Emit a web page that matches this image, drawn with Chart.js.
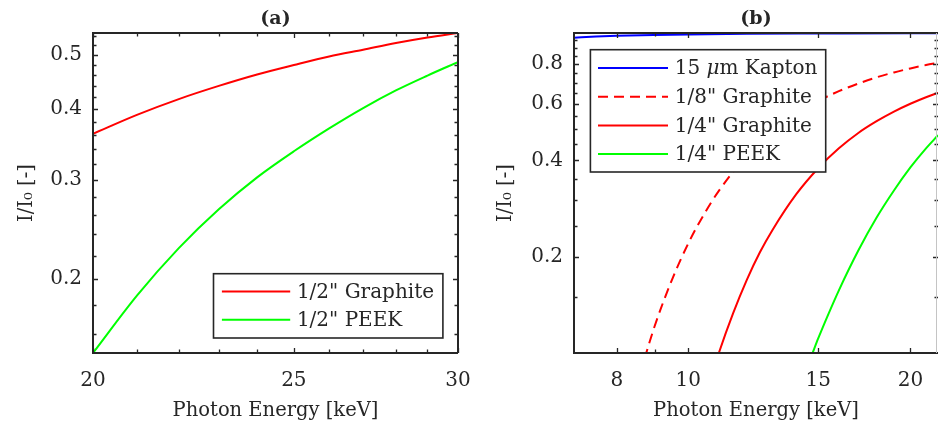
<!DOCTYPE html>
<html><head><meta charset="utf-8">
<script src="https://cdn.jsdelivr.net/npm/chart.js@4/dist/chart.umd.min.js"></script>
<style>
html,body{margin:0;padding:0;background:#fff;}
#wrap{position:relative;width:938px;height:424px;overflow:hidden;background:#fff;}
#ca{position:absolute;left:0;top:0;}
#cb{position:absolute;left:470px;top:0;}
</style></head><body>
<div id="wrap">
<canvas id="ca" width="470" height="424"></canvas>
<canvas id="cb" width="468" height="424"></canvas>
</div>
<script>
// ---------- Panel (a) data ----------
const energyA = [20, 21, 22, 23, 24, 25, 26, 27, 28, 29, 30];
const graphiteHalf = [0.362, 0.391, 0.417, 0.440, 0.461, 0.479, 0.496, 0.510, 0.524, 0.536, 0.546];
const peekHalf = [0.148, 0.187, 0.227, 0.266, 0.303, 0.337, 0.370, 0.402, 0.432, 0.459, 0.485];
const xTicksA = [20, 25, 30];
const xMinorA = [21, 22, 23, 24, 26, 27, 28, 29];
const yTicksA = [0.2, 0.3, 0.4, 0.5];
const yMinorA = [0.16, 0.18, 0.22, 0.24, 0.26, 0.28, 0.32, 0.34, 0.36, 0.38, 0.42, 0.44, 0.46, 0.48, 0.52, 0.54];
const labelsA = ['1/2" Graphite', '1/2" PEEK'];

// ---------- Panel (b) data ----------
const energyKapton = [7, 7.5, 8, 9, 10, 12, 15, 20, 21.8];
const kapton15um = [0.967, 0.975, 0.980, 0.986, 0.990, 0.994, 0.996, 0.998, 0.998];
const energyGraphite8 = [8.6, 9, 9.5, 10, 10.5, 11, 12, 13, 14, 15, 16, 17, 18, 19, 20, 21, 21.8];
const graphite8 = [0.086, 0.121, 0.169, 0.220, 0.271, 0.321, 0.413, 0.492, 0.558, 0.613, 0.658, 0.695, 0.727, 0.753, 0.775, 0.794, 0.807];
const energyGraphite4 = [10.8, 11, 11.5, 12, 12.5, 13, 14, 15, 16, 17, 18, 19, 20, 21, 21.8];
const graphite4 = [0.0875, 0.100, 0.133, 0.169, 0.206, 0.242, 0.313, 0.378, 0.436, 0.487, 0.530, 0.568, 0.601, 0.630, 0.650];
const energyPeek4 = [14.5, 14.74, 15, 15.5, 16, 17, 18, 19, 20, 21, 21.8];
const peek4 = [0.0906, 0.100, 0.111, 0.133, 0.157, 0.209, 0.265, 0.322, 0.380, 0.436, 0.479];
const xTicksB = [8, 10, 15, 20];
const xMinorB = [9];
const yTicksB = [0.2, 0.4, 0.6, 0.8];
const yMinorB = [0.15, 0.25, 0.3, 0.35, 0.45, 0.5, 0.55, 0.65, 0.7, 0.75, 0.85, 0.9, 0.95];
const labelsB = ['15 μm Kapton', '1/8" Graphite', '1/4" Graphite', '1/4" PEEK'];

const FONT = "'DejaVu Serif', serif";
const INK = '#262626';
Chart.defaults.font.family = FONT;
Chart.defaults.color = INK;

const pts = (xs, ys) => xs.map((x, i) => ({x: x, y: ys[i]}));

const framePlugin = {
  id: 'frame',
  afterDatasetsDraw(chart, args, o) {
    const {ctx, chartArea: a} = chart;
    const x = chart.scales.x, y = chart.scales.y;
    ctx.save();
    ctx.strokeStyle = INK;
    ctx.lineWidth = 1.3;
    const drawX = (vals, len) => vals.forEach(v => {
      const p = Math.round(x.getPixelForValue(v)) + 0.5;
      ctx.beginPath();
      ctx.moveTo(p, a.bottom); ctx.lineTo(p, a.bottom - len);
      ctx.moveTo(p, a.top); ctx.lineTo(p, a.top + len);
      ctx.stroke();
    });
    const drawY = (vals, len) => vals.forEach(v => {
      const p = Math.round(y.getPixelForValue(v)) + 0.5;
      ctx.beginPath();
      ctx.moveTo(a.left, p); ctx.lineTo(a.left + len, p);
      ctx.moveTo(a.right, p); ctx.lineTo(a.right - len, p);
      ctx.stroke();
    });
    drawX(o.xMajor, 5); drawX(o.xMinor, 3.5);
    drawY(o.yMajor, 5); drawY(o.yMinor, 3.5);
    ctx.lineWidth = 2;
    ctx.beginPath();
    ctx.moveTo(a.right, a.top); ctx.lineTo(a.left, a.top);
    ctx.lineTo(a.left, a.bottom); ctx.lineTo(a.right, a.bottom);
    ctx.stroke();
    ctx.strokeStyle = o.rightColor || INK;
    ctx.lineWidth = o.rightColor ? 1 : 2;
    ctx.beginPath();
    ctx.moveTo(a.right - (o.rightColor ? 1.5 : 0), a.top);
    ctx.lineTo(a.right - (o.rightColor ? 1.5 : 0), a.bottom);
    ctx.stroke();
    ctx.restore();
  }
};

const boxLegendPlugin = {
  id: 'boxLegend',
  afterDraw(chart, args, o) {
    const {ctx, chartArea: a} = chart;
    ctx.save();
    const bx = a.left + o.dx, by = a.top + o.dy;
    ctx.fillStyle = '#fff';
    ctx.fillRect(bx, by, o.w, o.h);
    ctx.strokeStyle = INK; ctx.lineWidth = 1.6;
    ctx.strokeRect(bx, by, o.w, o.h);
    chart.data.datasets.forEach((ds, i) => {
      const yy = by + o.row0 + i * o.step;
      ctx.strokeStyle = ds.borderColor; ctx.lineWidth = 2;
      ctx.setLineDash(ds.borderDash || []);
      ctx.beginPath();
      ctx.moveTo(bx + o.l0, yy); ctx.lineTo(bx + o.l1, yy);
      ctx.stroke();
      ctx.setLineDash([]);
      ctx.fillStyle = INK;
      ctx.textBaseline = 'middle';
      let tx = bx + o.tx;
      const label = ds.label;
      const mu = label.indexOf('μ');
      const parts = mu >= 0 ? [[label.slice(0, mu), ''], ['μ', 'italic '], [label.slice(mu + 1), '']] : [[label, '']];
      parts.forEach(([t, st]) => {
        ctx.font = st + o.fontSize + 'px ' + FONT;
        ctx.fillText(t, tx, yy + 1);
        tx += ctx.measureText(t).width;
      });
    });
    ctx.restore();
  }
};

function makeOptions(cfg) {
  return {
    responsive: false,
    animation: false,
    devicePixelRatio: 1,
    layout: {padding: {left: 0, right: cfg.padRight, top: 0, bottom: 0}},
    plugins: {
      legend: {display: false},
      tooltip: {enabled: false},
      title: {display: true, text: cfg.title, fullSize: false, color: INK,
              font: {size: 19, weight: 'bold', family: FONT}, padding: {top: 8, bottom: 2.2}},
      frame: {xMajor: cfg.xTicks, xMinor: cfg.xMinor, yMajor: cfg.yTicks, yMinor: cfg.yMinor, rightColor: cfg.rightColor},
      boxLegend: cfg.legend
    },
    scales: {
      x: {
        type: 'logarithmic', min: cfg.xMin, max: cfg.xMax,
        grid: {display: false, drawTicks: false}, border: {display: false},
        afterBuildTicks: s => { s.ticks = cfg.xTicks.map(v => ({value: v})); },
        afterFit: s => { s.height = 71; s.paddingLeft = 0; s.paddingRight = 0; s.paddingTop = 0; s.paddingBottom = 0; },
        ticks: {autoSkip: false, maxRotation: 0, padding: 16, font: {size: 20}, color: INK, callback: v => String(v)},
        title: {display: true, text: 'Photon Energy [keV]', color: INK, font: {size: 19.5}, padding: {top: 0, bottom: 1.5}}
      },
      y: {
        type: 'logarithmic', min: cfg.yMin, max: cfg.yMax,
        grid: {display: false, drawTicks: false}, border: {display: false},
        afterBuildTicks: s => { s.ticks = cfg.yTicks.map(v => ({value: v})); },
        afterFit: s => { s.width = cfg.yWidth; s.paddingLeft = 0; s.paddingRight = 0; s.paddingTop = 0; s.paddingBottom = 0; },
        ticks: {autoSkip: false, padding: 11, font: {size: 20}, color: INK, callback: v => String(v)},
        title: {display: true, text: 'I/I₀ [-]', color: INK, font: {size: 19.5}, padding: {top: cfg.yTitlePad, bottom: 0}}
      }
    }
  };
}

new Chart(document.getElementById('ca'), {
  type: 'line',
  data: {datasets: [
    {label: labelsA[0], data: pts(energyA, graphiteHalf), borderColor: '#ff0000', borderWidth: 2, pointRadius: 0, cubicInterpolationMode: 'monotone'},
    {label: labelsA[1], data: pts(energyA, peekHalf), borderColor: '#00ff00', borderWidth: 2, pointRadius: 0, cubicInterpolationMode: 'monotone'}
  ]},
  options: makeOptions({
    title: '(a)', padRight: 12, xMin: 20, xMax: 30, yMin: 0.148, yMax: 0.546,
    xTicks: xTicksA, xMinor: xMinorA, yTicks: yTicksA, yMinor: yMinorA,
    yWidth: 93, yTitlePad: 15,
    legend: {dx: 120.5, dy: 240.7, w: 229.4, h: 64.3, l0: 8.4, l1: 76.7, tx: 83.4, row0: 17.7, step: 28.3, fontSize: 20}
  }),
  plugins: [framePlugin, boxLegendPlugin]
});

new Chart(document.getElementById('cb'), {
  type: 'line',
  data: {datasets: [
    {label: labelsB[0], data: pts(energyKapton, kapton15um), borderColor: '#0000ff', borderWidth: 2, pointRadius: 0, cubicInterpolationMode: 'monotone'},
    {label: labelsB[1], data: pts(energyGraphite8, graphite8), borderColor: '#ff0000', borderDash: [10, 6], borderWidth: 2, pointRadius: 0, cubicInterpolationMode: 'monotone'},
    {label: labelsB[2], data: pts(energyGraphite4, graphite4), borderColor: '#ff0000', borderWidth: 2, pointRadius: 0, cubicInterpolationMode: 'monotone'},
    {label: labelsB[3], data: pts(energyPeek4, peek4), borderColor: '#00ff00', borderWidth: 2, pointRadius: 0, cubicInterpolationMode: 'monotone'}
  ]},
  options: makeOptions({
    title: '(b)', padRight: 0, xMin: 7, xMax: 21.8, yMin: 0.1, yMax: 1.0,
    xTicks: xTicksB, xMinor: xMinorB, yTicks: yTicksB, yMinor: yMinorB,
    yWidth: 104, yTitlePad: 24, rightColor: '#c4c4c4',
    legend: {dx: 16.4, dy: 16.7, w: 235.3, h: 122.3, l0: 7.6, l1: 77.6, tx: 84.3, row0: 18.3, step: 28.7, fontSize: 20}
  }),
  plugins: [framePlugin, boxLegendPlugin]
});
</script>
</body></html>
